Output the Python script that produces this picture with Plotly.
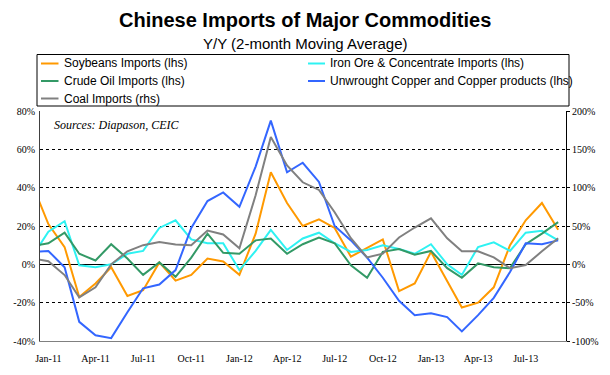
import plotly.graph_objects as go
import pandas as pd

months = ["Dec-10", "Jan-11", "Feb-11", "Mar-11", "Apr-11", "May-11", "Jun-11", "Jul-11",
          "Aug-11", "Sep-11", "Oct-11", "Nov-11", "Dec-11", "Jan-12", "Feb-12", "Mar-12",
          "Apr-12", "May-12", "Jun-12", "Jul-12", "Aug-12", "Sep-12", "Oct-12", "Nov-12",
          "Dec-12", "Jan-13", "Feb-13", "Mar-13", "Apr-13", "May-13", "Jun-13", "Jul-13",
          "Aug-13", "Sep-13"]

soybeans = [42, 21, 9, -17, -10, -1.5, -16.5, -13.5, 1, -8.5, -5.5, 3, 1.5, -5.5, 16, 48,
            32, 20, 23.5, 19, 4, 8.5, 13, -14, -10, 6.5, -8.5, -22.5, -20, -12, 10, 23, 32, 18]
iron_ore = [4, 17, 22.5, -0.5, -1.5, 0, 5.5, 7, 19, 23, 13, 11, 11, -3, 7, 18,
            7.5, 13.5, 16.5, 11, 6.5, 7.5, 10, 8, 5.5, 10.5, 0, -5.5, 9, 11.5, 7, 16.5, 17.5, 12.5]
crude_oil = [9.5, 11, 16.5, 5.5, 2, 10.5, 3, -5.5, 1, -6.5, 3.5, 16, 6, 5.5, 12.5, 13.5,
             5.5, 10.5, 14, 11, -0.5, -7, 6.5, 8, 5, 7, -2, -7, 0.5, -1.5, -2, 10.5, 16, 22]
copper = [6.5, 7, -1.5, -30, -37, -38.5, -25, -12.5, -10.5, -3, 19, 33, 37.5, 30, 51, 75,
          48, 53, 43, 20, 12.5, 3.5, -7, -19, -26.5, -25.5, -27.5, -35, -26.5, -17.5, -4, 11, 10.5, 12.5]
coal = [8, 4, -14, -43, -30, 0, 17, 25, 29, 26, 25, 44, 39, 21, 90, 166,
        129, 107, 97, 68, 34, 9, 14, 35, 48, 60, 34, 17, 17, 9, -5, -1, 17, 34]

x_tick_labels = ["Jan-11", "Apr-11", "Jul-11", "Oct-11", "Jan-12", "Apr-12", "Jul-12",
                 "Oct-12", "Jan-13", "Apr-13", "Jul-13"]
left_ticks = [-40, -20, 0, 20, 40, 60, 80]
right_ticks = [-100, -50, 0, 50, 100, 150, 200]

dates = pd.to_datetime(months, format="%b-%y")
tick_dates = pd.to_datetime(x_tick_labels, format="%b-%y")

series = [
    ("Soybeans Imports (lhs)", soybeans, "#FF9900", "y"),
    ("Iron Ore & Concentrate Imports (lhs)", iron_ore, "#2EF2F2", "y"),
    ("Crude Oil Imports (lhs)", crude_oil, "#339966", "y"),
    ("Unwrought Copper and Copper products (lhs)", copper, "#3366FF", "y"),
    ("Coal Imports (rhs)", coal, "#808080", "y2"),
]

# ---- layout geometry (pixels) ----
W, H = 610, 375
PL, PR, PT, PB = 40, 566, 111, 341   # plot area edges


def px(x):
    return (x - PL) / (PR - PL)


def py(y):
    return (PB - y) / (PB - PT)


fig = go.Figure()
for name, vals, color, yax in series:
    fig.add_trace(go.Scatter(x=dates, y=vals, name=name, mode="lines",
                             line=dict(color=color, width=2), yaxis=yax,
                             showlegend=False))

serif = "Liberation Serif, Times New Roman, serif"
sans = "Liberation Sans, Arial, sans-serif"

# legend drawn as a boxed key above the plot (2 columns)
legend_cols = [(41, 58.5, 61.5), (308, 325, 328)]   # line start, line end, text start
legend_rows = [63.5, 81, 98.5]
shapes = [dict(type="rect", xref="paper", yref="paper",
               x0=px(37), x1=px(569), y0=py(54.5), y1=py(106),
               line=dict(color="black", width=1), fillcolor="white", layer="below")]
annotations = []
for i, (name, vals, color, yax) in enumerate(series):
    c0, c1, ct = legend_cols[i % 2]
    ry = legend_rows[i // 2]
    shapes.append(dict(type="line", xref="paper", yref="paper",
                       x0=px(c0), x1=px(c1), y0=py(ry), y1=py(ry),
                       line=dict(color=color, width=2)))
    annotations.append(dict(text=name, xref="paper", yref="paper", x=px(ct), y=py(ry),
                            xanchor="left", yanchor="middle", showarrow=False,
                            font=dict(family=sans, size=12, color="black")))

annotations += [
    dict(text="<b>Chinese Imports of Major Commodities</b>", xref="paper", yref="paper",
         x=px(305), y=py(20), xanchor="center", yanchor="middle", showarrow=False,
         font=dict(family=sans, size=20, color="black")),
    dict(text="Y/Y (2-month Moving Average)", xref="paper", yref="paper",
         x=px(305), y=py(43.5), xanchor="center", yanchor="middle", showarrow=False,
         font=dict(family=sans, size=15, color="black")),
    dict(text="<i>Sources: Diapason, CEIC</i>", xref="paper", yref="paper",
         x=px(52), y=py(125), xanchor="left", yanchor="middle",
         showarrow=False, font=dict(family=serif, size=12, color="black")),
]

fig.update_layout(
    width=W, height=H,
    margin=dict(l=PL, r=W - PR, t=PT, b=H - PB, autoexpand=False),
    paper_bgcolor="white", plot_bgcolor="white",
    showlegend=False,
    xaxis=dict(type="date", range=["2010-12-16", "2013-09-16"],
               tickvals=tick_dates, ticktext=x_tick_labels,
               showgrid=False, zeroline=False, showline=True, linecolor="#808080", linewidth=1,
               ticks="", ticklabelstandoff=8,
               tickfont=dict(family=serif, size=10, color="black")),
    yaxis=dict(range=[-40, 80], tickvals=left_ticks, ticktext=[f"{v}%" for v in left_ticks],
               showgrid=True, gridcolor="black", gridwidth=1, griddash="dot",
               zeroline=True, zerolinecolor="black", zerolinewidth=1,
               showline=True, linecolor="#404040", linewidth=1, ticks="",
               ticklabelstandoff=2,
               tickfont=dict(family=serif, size=10, color="black")),
    yaxis2=dict(range=[-100, 200], tickvals=right_ticks, ticktext=[f"{v}%" for v in right_ticks],
                overlaying="y", side="right", showgrid=False, zeroline=False,
                showline=True, linecolor="black", linewidth=1,
                ticks="outside", ticklen=3, tickcolor="black",
                tickfont=dict(family=serif, size=10, color="black")),
    shapes=shapes,
    annotations=annotations,
)

fig.write_html("out.html", config={"displayModeBar": False},
               post_script="document.body.style.margin='0px';")
